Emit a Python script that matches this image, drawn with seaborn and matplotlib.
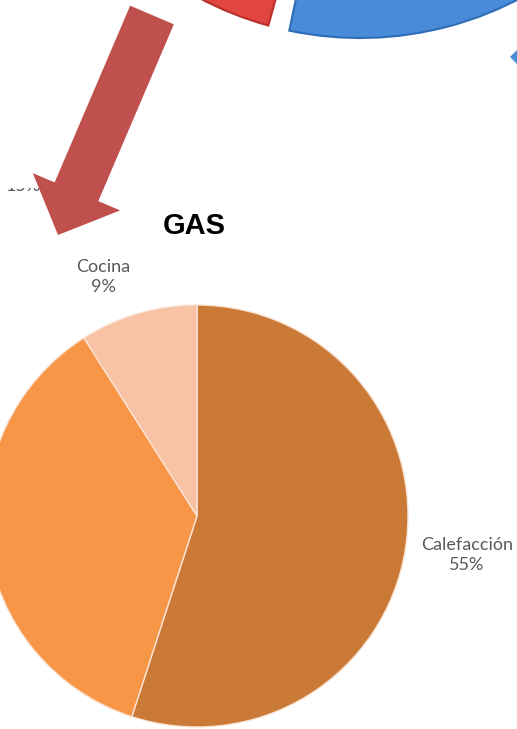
import matplotlib
matplotlib.use("Agg")
import matplotlib.pyplot as plt
from matplotlib.patches import FancyArrow, Polygon, Rectangle
import seaborn as sns

sns.set_theme(style="white")
plt.rcParams["font.family"] = ["Lato", "DejaVu Sans"]

# GAS consumption breakdown
gas_labels = ["Calefacción", "", "Cocina"]
gas_values = [55, 36, 9]
gas_colors = ["#CA7A36", "#F79646", "#F8C2A4"]

# neighbouring chart slices (partially visible at the top);
# the two white entries are hidden spacers
top_values = [30, 55, 14, 1]
top_colors = ["#4A8BD9", "#FFFFFF", "#E0463F", "#FFFFFF"]

W, H = 517, 729
fig = plt.figure(figsize=(W / 100, H / 100), dpi=100)
ax = fig.add_axes([0, 0, 1, 1])

# main GAS pie
ax.pie(gas_values, colors=gas_colors, startangle=90, counterclock=False,
       center=(197, 213), radius=211, frame=True,
       wedgeprops=dict(edgecolor="#FBE3D4", linewidth=1.0))

# top pie fragment (blue and red wedges of the upper chart)
top_wedges, _ = ax.pie(top_values, colors=top_colors, startangle=258.1,
                       counterclock=True, center=(360, 1034), radius=343,
                       frame=True, wedgeprops=dict(linewidth=1.5))
top_wedges[0].set_edgecolor("#2F6DB5")
top_wedges[1].set_visible(False)
top_wedges[2].set_edgecolor("#B8302B")
top_wedges[3].set_visible(False)

ax.set_xlim(0, W)
ax.set_ylim(0, H)
ax.set_aspect("equal")
ax.axis("off")

# clipped label of the upper chart
ax.text(23, H - 186, "15%", ha="center", va="center", fontsize=13,
        color="#595959", zorder=2)
ax.add_patch(Rectangle((0, H - 188), 60, 30, facecolor="white",
                       edgecolor="none", zorder=3))

# red arrow pointing to the GAS chart
ax.add_patch(FancyArrow(152, H - 15, -94, -220, width=47.5, head_width=95,
                        head_length=47, length_includes_head=True,
                        facecolor="#C0504D", edgecolor="none", zorder=5))

# blue arrow tip at the right edge
ax.add_patch(Polygon([[510, H - 57], [522, H - 45], [522, H - 69]],
                     closed=True, facecolor="#4A8BD9", edgecolor="none",
                     zorder=5))

# title and labels
ax.text(194, H - 226, "GAS", ha="center", va="center", fontsize=21,
        fontweight="bold", family=["Liberation Sans", "DejaVu Sans"],
        color="black")
ax.text(103, H - 277, "Cocina\n9%", ha="center", va="center", fontsize=13,
        color="#595959", linespacing=1.3)
ax.text(467, H - 555, "Calefacción\n55%", ha="center", va="center",
        fontsize=13, color="#595959", linespacing=1.3)

fig.savefig("out.png", dpi=100)
